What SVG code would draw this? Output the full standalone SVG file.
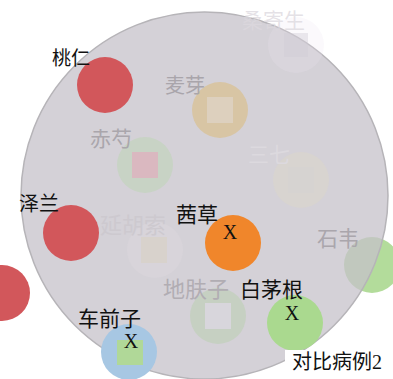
<svg xmlns="http://www.w3.org/2000/svg" width="393" height="379" viewBox="0 0 393 379">
<style>
.lbl{font-family:"Liberation Serif","Noto Sans CJK SC",serif;fill:#111;}
.fade{font-family:"Noto Sans CJK SC","Noto Sans",sans-serif;}
.x{font-family:"Liberation Serif",serif;font-size:20px;fill:#111;text-anchor:middle;}
.red{fill:#d2575b;}
</style>
<rect width="393" height="379" fill="#ffffff"/>
<g id="node-shiwei-circle">
<circle cx="372" cy="265" r="28" fill="#b3dc9b"/>
</g>
<g id="background">
<circle cx="204.5" cy="195.5" r="183.5" fill="#c6c2ca" fill-opacity="0.75" stroke="#b6b4b8" stroke-width="1.5"/>
</g>
<g id="node-sangjisheng">
<circle cx="296" cy="45" r="28" fill="#ebe4f2" fill-opacity="0.22"/>
<rect x="284" y="33" width="24" height="24" fill="#cfcbd4" fill-opacity="0.4"/>
<text class="fade" x="242" y="28" font-size="21" fill="#dcd8de" fill-opacity="0.75">桑寄生</text>
</g>
<g id="node-maiya">
<circle cx="220" cy="110" r="28" fill="#d8c5a4"/>
<rect x="207" y="97" width="26" height="26" fill="#ddd0be"/>
<text class="fade" x="165" y="93" font-size="20" fill="#a9a5ab">麦芽</text>
</g>
<g id="node-chishao">
<circle cx="145" cy="165" r="28" fill="#c8d3c5"/>
<rect x="132" y="152" width="26" height="26" fill="#dab8c0"/>
<text class="fade" x="90" y="146" font-size="21" fill="#aaa6ac">赤芍</text>
</g>
<g id="node-sanqi">
<circle cx="301" cy="180" r="28" fill="#d8d4d0"/>
<rect x="288" y="167" width="26" height="26" fill="#d6d2d2" fill-opacity="0.6"/>
<text class="fade" x="248" y="162" font-size="21" fill="#dcd9de">三七</text>
</g>
<g id="node-yanhusuo">
<circle cx="155" cy="250" r="28" fill="#d8d4da"/>
<rect x="141" y="237" width="26" height="26" fill="#d8d2cc"/>
<text class="fade" x="100" y="233" font-size="22" fill="#cdc9cf">延胡索</text>
</g>
<g id="node-difuzi">
<circle cx="218" cy="316" r="28" fill="#c6d0c2"/>
<rect x="205" y="303" width="26" height="26" fill="#d8d6dc"/>
<text class="fade" x="163" y="297" font-size="22" fill="#b1adb3">地肤子</text>
</g>
<g id="node-shiwei">
<text class="fade" x="317" y="246" font-size="21" fill="#aaa6ac">石韦</text>
</g>
<g id="node-taoren">
<circle class="red" cx="105" cy="85" r="28"/>
<text class="lbl" x="52" y="65" font-size="19">桃仁</text>
</g>
<g id="node-zelan">
<circle class="red" cx="71" cy="233" r="28"/>
<text class="lbl" x="19" y="211" font-size="20">泽兰</text>
</g>
<g id="node-left">
<circle class="red" cx="2" cy="293" r="28"/>
</g>
<g id="node-qiancao">
<circle cx="233" cy="243" r="28" fill="#f0862b"/>
<text class="lbl" x="176" y="222" font-size="21">茜草</text>
<text class="x" x="230" y="239">X</text>
</g>
<g id="node-baimaogen">
<circle cx="295" cy="323" r="28" fill="#aad98f"/>
<text class="lbl" x="240" y="297" font-size="21">白茅根</text>
<text class="x" x="292" y="320">X</text>
</g>
<g id="node-cheqianzi">
<circle cx="129" cy="352" r="28" fill="#a7c7e3"/>
<rect x="117" y="340" width="26" height="25" fill="#b0d898"/>
<text class="lbl" x="78" y="326" font-size="21">车前子</text>
<text class="x" x="131" y="348">X</text>
</g>
<g id="title">
<rect x="285" y="350" width="108" height="29" fill="#ffffff"/>
<text class="lbl" x="292" y="369" font-size="20">对比病例2</text>
</g>
</svg>
